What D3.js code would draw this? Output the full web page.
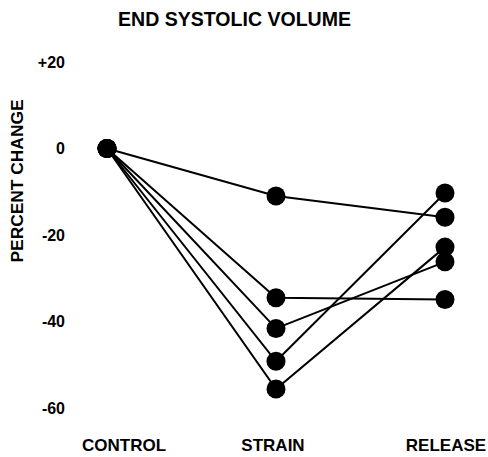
<!DOCTYPE html>
<html>
<head>
<meta charset="utf-8">
<script src="https://cdn.jsdelivr.net/npm/d3@7"></script>
<style>
  body { margin: 0; background: white; }
  text { font-family: "Liberation Sans", Arial, sans-serif; font-weight: bold; fill: black; }
</style>
</head>
<body>
<svg id="chart" width="488" height="457"></svg>
<script>
// categories along the bottom
const categories = ["CONTROL", "STRAIN", "RELEASE"];

// percent change per animal, one entry per line
const controlValues = [0, 0, 0, 0, 0];
const strainValues = [-11, -34.5, -41.6, -49.2, -55.6];
const releaseValues = [-15.9, -34.9, -26.2, -10.3, -22.8];

const yTicks = [20, 0, -20, -40, -60];
const yTickLabels = ["+20", "0", "-20", "-40", "-60"];

const svg = d3.select("#chart");

const x = d3.scalePoint()
    .domain(categories)
    .range([107, 445]);

const y = d3.scaleLinear()
    .domain([-60, 20])
    .range([408, 62]);

// title
svg.append("text")
    .attr("x", 118)
    .attr("y", 26)
    .attr("font-size", 19.5)
    .attr("textLength", 233)
    .attr("lengthAdjust", "spacingAndGlyphs")
    .text("END SYSTOLIC VOLUME");

// y axis label
svg.append("text")
    .attr("transform", "translate(23,181) rotate(-90)")
    .attr("text-anchor", "middle")
    .attr("font-size", 17)
    .attr("textLength", 163)
    .attr("lengthAdjust", "spacingAndGlyphs")
    .text("PERCENT CHANGE");

// y axis: labels only
const yAxis = svg.append("g")
    .attr("transform", "translate(65,0)")
    .call(d3.axisLeft(y)
        .tickValues(yTicks)
        .tickSize(0)
        .tickPadding(0)
        .tickFormat((d, i) => yTickLabels[i]));
yAxis.select(".domain").remove();
yAxis.selectAll("text")
    .attr("font-size", 16)
    .attr("font-family", "'Liberation Sans', Arial, sans-serif")
    .attr("font-weight", "bold")
    .attr("fill", "black");

// x labels
const xLabelOffset = { "CONTROL": 17, "STRAIN": -3, "RELEASE": 1 };
svg.append("g")
    .selectAll("text")
    .data(categories)
    .join("text")
    .attr("x", d => x(d) + xLabelOffset[d])
    .attr("y", 451)
    .attr("text-anchor", "middle")
    .attr("font-size", 17)
    .text(d => d);

// one series per animal
var series = strainValues.map((s, i) => [
    { cat: categories[0], v: controlValues[i] },
    { cat: categories[1], v: s },
    { cat: categories[2], v: releaseValues[i] },
]);

const line = d3.line()
    .x(d => x(d.cat))
    .y(d => y(d.v));

svg.append("g")
    .selectAll("path")
    .data(series)
    .join("path")
    .attr("d", line)
    .attr("fill", "none")
    .attr("stroke", "black")
    .attr("stroke-width", 2);

svg.append("g")
    .selectAll("circle")
    .data(series.flat())
    .join("circle")
    .attr("cx", d => x(d.cat))
    .attr("cy", d => y(d.v))
    .attr("r", 9.5)
    .attr("fill", "black");
</script>
</body>
</html>
